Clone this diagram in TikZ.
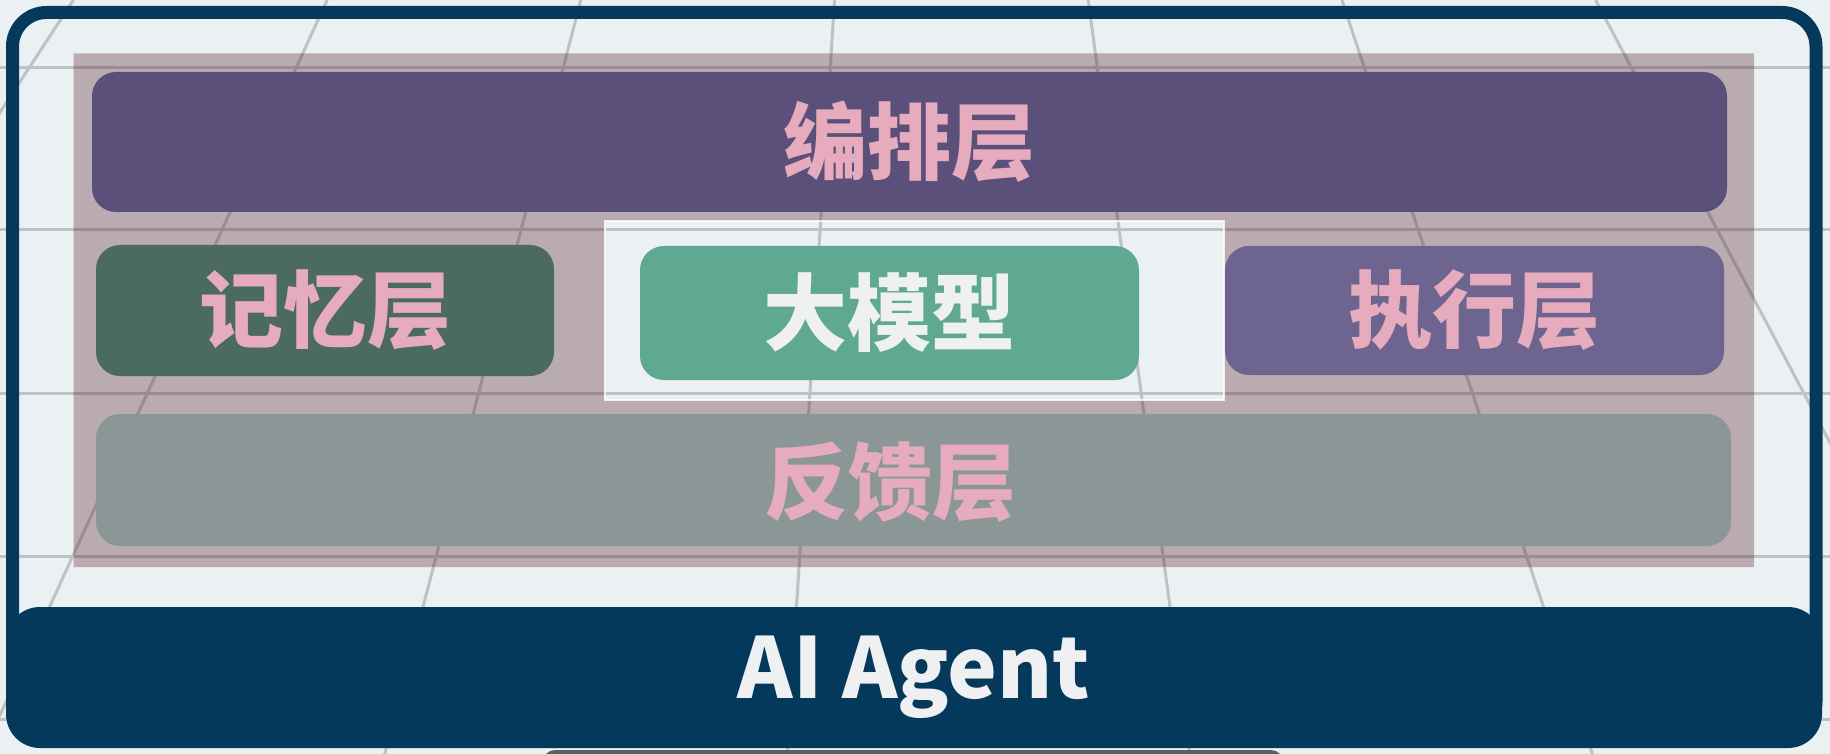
\documentclass[tikz,border=0pt]{standalone}
\usepackage{fontspec}
\usepackage{tikz}
\usetikzlibrary{calc}
\newfontfamily\cjk{Noto Sans CJK SC Black}

\definecolor{navy}{RGB}{4,57,92}
\definecolor{paper}{RGB}{235,241,243}
\definecolor{gridgray}{RGB}{190,194,197}
\definecolor{mauve}{RGB}{92,42,52}
\definecolor{orchpurple}{RGB}{91,80,121}
\definecolor{memgreen}{RGB}{74,107,93}
\definecolor{llmteal}{RGB}{95,168,145}
\definecolor{execpurple}{RGB}{109,101,144}
\definecolor{fbgray}{RGB}{138,151,150}
\definecolor{pinktext}{RGB}{230,172,189}
\definecolor{snow}{RGB}{238,240,242}

\begin{document}
\begin{tikzpicture}[x=0.5pt,y=-0.5pt,
  layer/.style={rounded corners=12pt, inner sep=0pt,
    font=\cjk\fontsize{42}{48}\selectfont, text=pinktext},
  gridline/.style={gridgray, line width=1.5pt},
]

\useasboundingbox (0,0) rectangle (1830,754);
\fill[paper] (0,0) rectangle (1830,754);

%--- perspective grid in the back ---------------------------------------
\begin{scope}
  \clip (0,0) rectangle (1830,754);
  \foreach \y in {68,230,393,556,719}{
    \draw[gridline] (0,\y) -- (1830,\y);
  }
  \foreach \k in {0,...,6}{
    \pgfmathsetmacro{\xt}{73.5+253.67*\k}
    \pgfmathsetmacro{\xb}{915+(\xt-915)*1.5868}
    \draw[gridline] (\xt,0) -- (\xb,754);
  }
  % sliver of something below the picture
  \fill[rounded corners=6pt,fill={rgb,255:red,90;green,95;blue,100}]
    (543,750) rectangle (1283,790);
\end{scope}

%--- tinted panel with the hole for the model ---------------------------
\fill[mauve, opacity=0.35, even odd rule]
  (73.5,53.5) rectangle (1754,567)
  (605,221) rectangle (1224,400);
\draw[white, line width=1.2pt, opacity=0.8] (605,221) rectangle (1224,400);

%--- outer frame --------------------------------------------------------
\draw[navy, line width=6.5pt, rounded corners=17pt] (12.5,12.5) rectangle (1816,735);

%--- layers -------------------------------------------------------------
\node[layer, fill=orchpurple, minimum width=817.5pt, minimum height=70pt]
  (orch) at (909.5,142) {编排层};
\node[layer, fill=memgreen, minimum width=229pt, minimum height=65.5pt]
  (mem) at (325,310.5) {记忆层};
\node[layer, fill=llmteal, text=snow, minimum width=249.5pt, minimum height=67pt]
  (llm) at (889.5,313) {大模型};
\node[layer, fill=execpurple, minimum width=249.5pt, minimum height=64.5pt]
  (exec) at (1474.5,310.5) {执行层};
\node[layer, fill=fbgray, minimum width=817.5pt, minimum height=66pt]
  (fb) at (913.5,480) {};
\node[layer] (fbtext) at ($(fb.center)+(-23,2)$) {反馈层};

%--- base bar -----------------------------------------------------------
\node[layer, fill=navy, text=snow, rounded corners=17pt,
  minimum width=908pt, minimum height=70.5pt]
  (agent) at (914,677.5) {AI Agent};

\end{tikzpicture}
\end{document}
